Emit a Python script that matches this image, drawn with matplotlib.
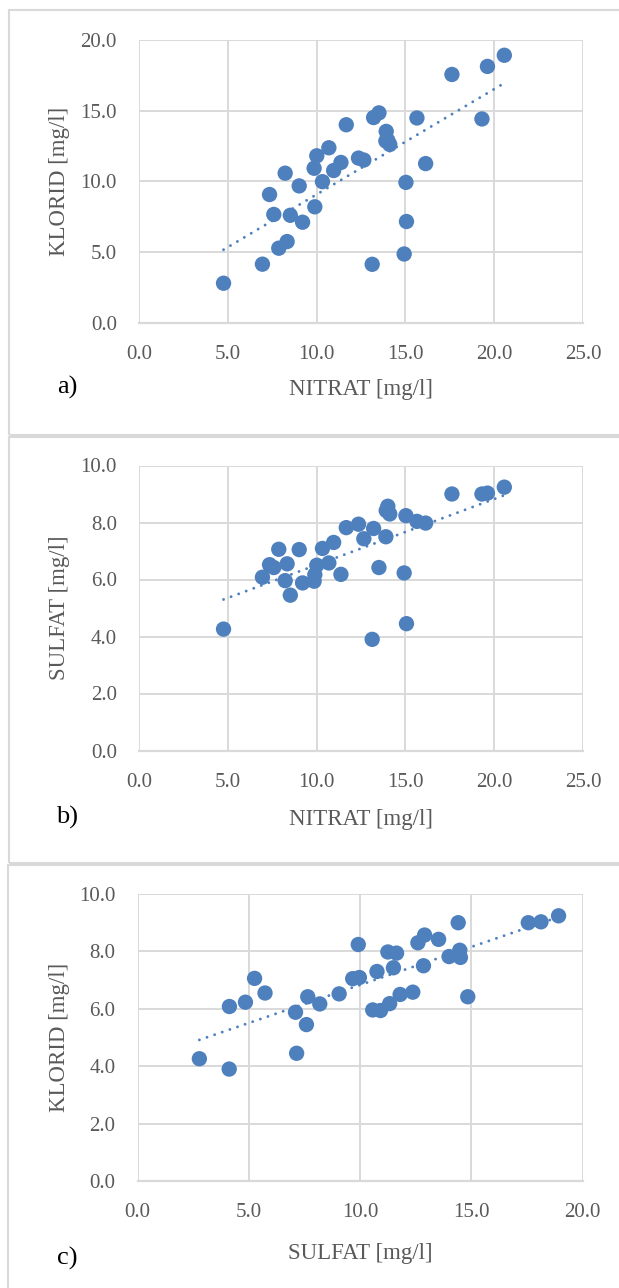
import numpy as np
import matplotlib
matplotlib.use('Agg')
import matplotlib.pyplot as plt
from matplotlib.patches import Rectangle

# Samples: nitrate, chloride and sulphate concentrations [mg/l]
nitrat = [4.76, 6.95, 7.35, 7.59, 7.87, 8.23, 8.34, 8.52, 9.02, 9.21,
          9.86, 9.90, 10.01, 10.33, 10.69, 10.96, 11.37, 11.67, 12.36, 12.66,
          13.13, 13.21, 13.51, 13.90, 13.92, 14.01, 14.12, 14.93, 15.03, 15.06,
          15.65, 16.14, 17.62, 19.31, 19.62, 20.57]
klorid = [2.78, 4.13, 9.06, 7.65, 5.26, 10.57, 5.73, 7.59, 9.67, 7.10,
          10.92, 8.19, 11.80, 9.97, 12.37, 10.76, 11.33, 14.00, 11.64, 11.50,
          4.12, 14.51, 14.84, 12.85, 13.53, 12.90, 12.60, 4.85, 9.92, 7.15,
          14.48, 11.25, 17.56, 14.41, 18.13, 18.92]
sulfat = [4.26, 6.08, 6.52, 6.42, 7.06, 5.96, 6.55, 5.45, 7.05, 5.88,
          5.94, 6.17, 6.50, 7.09, 6.58, 7.30, 6.18, 7.82, 7.94, 7.43,
          3.90, 7.79, 6.42, 7.50, 8.42, 8.57, 8.30, 6.23, 8.24, 4.45,
          8.04, 7.98, 9.00, 9.00, 9.03, 9.24]

BLUE = '#4E80BD'
GRID = '#D9D9D9'
TXT = '#595959'

plt.rcParams['font.family'] = ['Liberation Serif', 'DejaVu Serif']

fig = plt.figure(figsize=(6.19, 12.88), dpi=100)

# panel frames (px: left, top, bottom)
W, H = 619.0, 1288.0
for top, bottom, left in [(10, 435, 8.7), (437, 863, 8.7), (865, 1300, 7.5)]:
    fig.patches.append(Rectangle((left / W, 1 - bottom / H), 1.0, (bottom - top) / H,
                                 transform=fig.transFigure, fill=False,
                                 edgecolor=GRID, linewidth=1.5))

panels = [
    # x, y, xlabel, ylabel, xmax, ymax, ystep, axes box px (l, r, top, bottom), tag, xlabel y, tag y
    (nitrat, klorid, 'NITRAT [mg/l]', 'KLORID [mg/l]', 25, 20, 5,
     (139, 583, 40, 322.5), 'a)', 390, 387),
    (nitrat, sulfat, 'NITRAT [mg/l]', 'SULFAT [mg/l]', 25, 10, 2,
     (139, 583, 465.5, 750.5), 'b)', 820, 817),
    (klorid, sulfat, 'SULFAT [mg/l]', 'KLORID [mg/l]', 20, 10, 2,
     (137.5, 582.6, 894, 1181), 'c)', 1253, 1258),
]

for xs, ys, xl, yl, xmax, ymax, ystep, box, tag, xly, tagy in panels:
    l, r, t, b = box
    ax = fig.add_axes([l / W, 1 - b / H, (r - l) / W, (b - t) / H])
    xs = np.array(xs)
    ys = np.array(ys)

    ax.scatter(xs, ys, s=122, color=BLUE, edgecolors='none', zorder=3)

    # linear trendline over the data range
    z = np.polyfit(xs, ys, 1)
    p = np.poly1d(z)
    tx = np.array([xs.min(), xs.max()])
    ax.plot(tx, p(tx), color=BLUE, linewidth=2.1, linestyle=(0, (0.01, 2.75)),
            dash_capstyle='round', zorder=2)

    ax.set_xlim(0, xmax)
    ax.set_ylim(0, ymax)
    ax.set_xticks(np.arange(0, xmax + 0.1, 5))
    ax.set_yticks(np.arange(0, ymax + 0.1, ystep))
    ax.set_xticklabels([f'{v:.1f}' for v in ax.get_xticks()])
    ax.set_yticklabels([f'{v:.1f}' for v in ax.get_yticks()])
    ax.tick_params(length=0, labelsize=15, labelcolor=TXT)
    ax.tick_params(axis='x', pad=16)
    ax.tick_params(axis='y', pad=16)
    ax.grid(True, color=GRID, linewidth=1.4, zorder=0)
    ax.set_axisbelow(True)
    for sp in ['top', 'right', 'left']:
        ax.spines[sp].set_visible(False)
    ax.spines['bottom'].set_color(GRID)
    ax.spines['bottom'].set_linewidth(1.6)

    ax.set_ylabel(yl, fontsize=16.5, color=TXT, labelpad=0, va='center')
    ax.yaxis.set_label_coords((59 - l) / (r - l), 0.5)
    fig.text((l + r) / 2 / W, 1 - xly / H, xl, fontsize=16.5, color=TXT,
             ha='center', va='center')
    fig.text(67 / W, 1 - tagy / H, tag, fontsize=19, color='black',
             ha='center', va='center')

fig.savefig('out.png', dpi=100)
